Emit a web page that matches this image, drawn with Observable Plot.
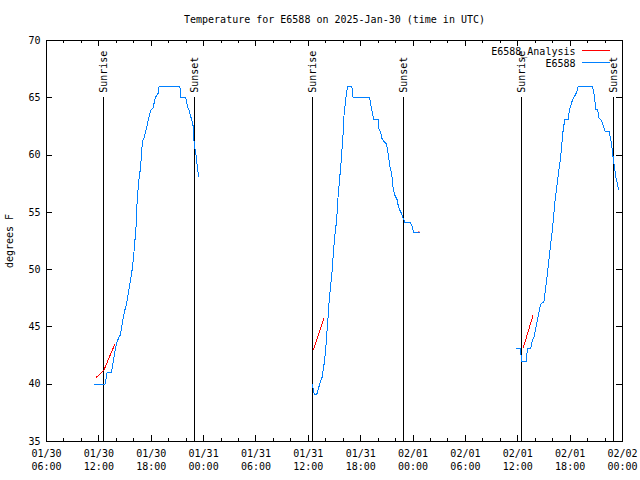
<!DOCTYPE html>
<html>
<head>
<meta charset="utf-8">
<script src="https://cdn.jsdelivr.net/npm/d3@7"></script>
<script src="https://cdn.jsdelivr.net/npm/@observablehq/plot@0.6"></script>
<style>
  html, body { margin: 0; padding: 0; background: white; }
</style>
</head>
<body>
<div id="chart"></div>
<script>
// Hours since 2025-01-30 00:00 UTC, temperature in degrees F
const obsDay1 = [
  [11.45,40.0],[12.71,40.0],[12.94,41.0],[13.44,41.0],[13.63,41.9],[13.83,42.8],[14.01,43.5],
  [14.28,44.1],[14.47,44.3],[14.58,44.9],[14.89,46.2],[15.16,47.0],[15.43,48.2],[15.66,49.2],
  [15.85,50.2],[16.01,51.4],[16.12,52.5],[16.24,53.2],[16.30,55.0],[16.42,56.2],[16.50,57.1],
  [16.61,58.0],[16.76,58.8],[16.88,60.0],[16.99,61.2],[17.15,61.4],[17.34,62.0],[17.53,62.6],
  [17.73,63.3],[17.96,63.9],[18.22,64.1],[18.42,64.9],[18.60,65.2],[18.79,65.4],[18.91,66.0],
  [21.28,66.0],[21.40,65.0],[21.93,65.0],[22.04,64.8],[22.16,64.2],[22.35,63.9],[22.55,63.3],
  [22.70,62.9],[22.81,62.5],[22.89,61.4],[22.96,60.7],[23.07,60.4],[23.19,59.7],[23.30,58.8],
  [23.46,58.1]
];
const obsDay2 = [
  [36.50,40.0],[36.55,39.6],[36.69,39.1],[36.96,39.1],[37.15,39.6],[37.38,40.2],[37.58,40.6],
  [37.76,41.5],[37.88,42.2],[38.04,43.5],[38.15,44.7],[38.27,45.9],[38.38,47.2],[38.56,48.6],
  [38.73,49.9],[38.87,51.4],[39.02,52.9],[39.18,53.9],[39.30,55.0],[39.41,56.4],[39.56,57.7],
  [39.68,58.7],[39.79,59.7],[39.87,60.6],[39.99,61.9],[40.06,63.2],[40.17,64.1],[40.33,65.1],
  [40.45,65.8],[40.56,66.0],[40.94,66.0],[41.02,65.8],[41.13,65.0],[43.01,65.0],[43.12,64.6],
  [43.23,64.1],[43.38,63.5],[43.50,63.1],[44.00,63.1],[44.07,62.3],[44.27,62.0],[44.46,61.4],
  [44.65,61.2],[44.92,61.0],[45.10,60.4],[45.22,59.7],[45.33,59.1],[45.50,58.5],[45.61,58.0],
  [45.72,57.1],[45.91,56.5],[46.18,56.1],[46.30,55.6],[46.48,55.2],[46.68,54.9],[46.87,54.5],
  [47.06,54.1],[47.71,54.1],[47.90,53.8],[48.09,53.2],[48.78,53.2]
];
const obsDay3 = [
  [59.87,43.1],[60.33,43.1],[60.41,42.0],[60.99,42.0],[61.10,43.1],[61.48,43.1],[61.67,43.8],
  [61.86,44.1],[62.05,44.8],[62.25,45.6],[62.43,46.3],[62.63,47.0],[63.00,47.2],[63.23,48.6],
  [63.43,49.9],[63.62,51.2],[63.81,52.5],[63.97,53.5],[64.23,55.7],[64.46,57.2],[64.66,58.4],
  [64.84,59.4],[65.00,60.5],[65.12,61.6],[65.23,62.4],[65.41,63.1],[65.76,63.1],[65.87,63.7],
  [65.99,64.1],[66.18,64.6],[66.38,65.0],[66.56,65.2],[66.76,65.5],[66.91,66.0],[68.56,66.0],
  [68.67,65.6],[68.82,64.9],[68.94,64.0],[69.13,64.0],[69.32,63.2],[69.59,63.0],[69.78,62.6],
  [69.97,62.1],[70.46,62.1],[70.58,61.6],[70.74,61.0],[70.85,60.3],[70.97,59.5],[71.12,58.7],
  [71.23,58.1],[71.43,57.5],[71.54,57.0]
];
const anaDay1 = [[11.71,40.6],[12.29,41.0],[12.56,41.2],[13.83,43.5]];
const anaDay2 = [[36.58,43.0],[37.76,45.7]];
const anaDay3 = [[60.64,43.2],[61.74,46.0]];
const anaPoint = [[48.66,53.3]];
const sunriseHours = [12.52, 36.50, 60.48];
const sunsetHours = [22.96, 46.94, 70.97];
const yTicks = [35, 40, 45, 50, 55, 60, 65, 70];
const titleText = "Temperature for E6588 on 2025-Jan-30 (time in UTC)";
const yLabel = "degrees F";
const seriesNames = ["E6588_Analysis", "E6588"];
const seriesColors = ["#ff0000", "#0080ff"];

const base = Date.UTC(2025, 0, 30);
const toDate = h => new Date(base + h * 3600e3);
const toRows = (arrs) => arrs.flatMap((arr, i) => arr.map(([h, t]) => ({time: toDate(h), temp: t, seg: i})));
const obs = toRows([obsDay1, obsDay2, obsDay3]);
const ana = toRows([anaDay1, anaDay2, anaDay3]);
const anaPts = toRows([anaPoint]);
const sunEvents = [
  ...sunriseHours.map(h => ({time: toDate(h), label: "Sunrise"})),
  ...sunsetHours.map(h => ({time: toDate(h), label: "Sunset"}))
];

const xStart = toDate(6), xEnd = toDate(72);
const majorTicks = d3.utcHour.every(6).range(xStart, new Date(+xEnd + 1));
const minorTicks = d3.utcHour.every(2).range(xStart, new Date(+xEnd + 1)).filter(d => d.getUTCHours() % 6 !== 0);
const fmtDate = d3.utcFormat("%m/%d"), fmtTime = d3.utcFormat("%H:%M");

const mT = 40, mB = 39, mL = 46, mR = 18, W = 640, H = 480;
const frameH = H - mT - mB, frameW = W - mL - mR;

const crisp = {shapeRendering: "crispEdges"};

const plot = Plot.plot({
  width: W, height: H,
  marginTop: mT, marginBottom: mB, marginLeft: mL, marginRight: mR,
  style: {fontFamily: "'DejaVu Sans Mono', monospace", fontSize: "10px", background: "white", color: "black"},
  x: {type: "utc", domain: [xStart, xEnd]},
  y: {domain: [35, 70]},
  marks: [
    // axes labels
    Plot.axisX(majorTicks, {anchor: "bottom", tickSize: 0, tickPadding: 6, lineHeight: 1.3,
      tickFormat: d => fmtDate(d) + "\n" + fmtTime(d), fontSize: 10, label: null}),
    Plot.axisY(yTicks, {anchor: "left", tickSize: 0, tickPadding: 6, fontSize: 10,
      label: yLabel, labelAnchor: "center", labelArrow: "none", labelOffset: 41}),
    // inward ticks
    Plot.tickX(majorTicks, {x: d => d, insetTop: frameH - 6, stroke: "black", ...crisp}),
    Plot.tickX(majorTicks, {x: d => d, insetBottom: frameH - 6, stroke: "black", ...crisp}),
    Plot.tickX(minorTicks, {x: d => d, insetTop: frameH - 3, stroke: "black", ...crisp}),
    Plot.tickX(minorTicks, {x: d => d, insetBottom: frameH - 3, stroke: "black", ...crisp}),
    Plot.tickY(yTicks, {y: d => d, insetRight: frameW - 6, stroke: "black", ...crisp}),
    Plot.tickY(yTicks, {y: d => d, insetLeft: frameW - 6, stroke: "black", ...crisp}),
    // sunrise / sunset
    Plot.ruleX(sunEvents, {x: "time", y1: () => 35, y2: () => 65, stroke: "black", ...crisp}),
    Plot.text(sunEvents, {x: "time", y: () => 65, text: "label", rotate: -90, textAnchor: "start",
      lineAnchor: "middle", dy: -5, fill: "black", fontSize: 10}),
    // data
    Plot.line(obs, {x: "time", y: "temp", z: "seg", stroke: seriesColors[1], strokeWidth: 1, ...crisp}),
    Plot.line(ana, {x: "time", y: "temp", z: "seg", stroke: seriesColors[0], strokeWidth: 1, ...crisp}),
    Plot.dot(anaPts, {x: "time", y: "temp", r: 0.7, fill: seriesColors[0], stroke: null}),
    // title
    Plot.text([titleText], {frameAnchor: "top", dy: -21, lineAnchor: "middle", fontSize: 10, fill: "black"}),
    // legend text
    Plot.text([seriesNames[0]], {frameAnchor: "top-right", dx: -47, dy: 11, textAnchor: "end", lineAnchor: "middle", fontSize: 10, fill: "black"}),
    Plot.text([seriesNames[1]], {frameAnchor: "top-right", dx: -47, dy: 23.5, textAnchor: "end", lineAnchor: "middle", fontSize: 10, fill: "black"}),
    Plot.frame({stroke: "black", ...crisp})
  ]
});

// legend sample lines
const svg = d3.select(plot);
const lx1 = W - mR - 40, lx2 = W - mR - 12;
[[mT + 10.5, seriesColors[0]], [mT + 22.5, seriesColors[1]]].forEach(([y, c]) => {
  svg.append("line").attr("x1", lx1).attr("x2", lx2).attr("y1", y).attr("y2", y)
    .attr("stroke", c).attr("stroke-width", 1).attr("shape-rendering", "crispEdges");
});

document.getElementById("chart").appendChild(plot);
</script>
</body>
</html>
